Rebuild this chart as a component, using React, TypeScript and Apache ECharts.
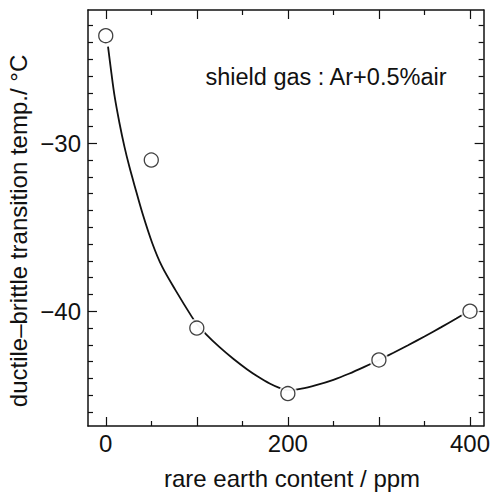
import React, { useEffect, useRef } from "react";
import * as echarts from "echarts";

// measured points
const pointX = [0, 50, 100, 200, 300, 400];
const pointY = [-23.6, -31.0, -41.0, -44.9, -42.9, -40.0];

// fitted curve
const fitX = [2.5, 6.2, 9.7, 15.1, 20.5, 25.9, 31.9, 40.3, 51.1, 61.9, 76.4, 94.4, 100, 110, 125, 140, 155, 166.5, 180, 192, 200, 215, 231, 250, 267, 284, 300, 316, 332, 350, 368, 385, 400];
const fitY = [-24.25, -25.83, -27.2, -28.81, -30.2, -31.39, -32.57, -34.17, -35.95, -37.35, -38.73, -40.32, -40.74, -41.36, -42.14, -42.83, -43.45, -43.87, -44.3, -44.59, -44.7, -44.61, -44.4, -44.08, -43.72, -43.31, -42.9, -42.47, -42.02, -41.5, -40.96, -40.43, -39.95];

// axes
const xMin = -19.5;
const xMax = 415;
const yMin = -46.83;
const yMax = -22.07;
const xMajorTicks = [0, 100, 200, 300, 400];
const xMinorTicks = [50, 150, 250, 350];
const xLabelValues = [0, 200, 400];
const yLabelValues = [-30, -40];
const yMinorTicks = [-46, -45, -44, -43, -42, -41, -39, -38, -37, -36, -35, -34, -33, -32, -31, -29, -28, -27, -26, -25, -24, -23];

const xTitle = "rare earth content / ppm";
const yTitle = "ductile–brittle transition temp./ °C";
const note = "shield gas : Ar+0.5%air";

const FONT = "'Liberation Sans', Arial, Helvetica, sans-serif";
const INK = "#111";

function axis(
  kind: "x" | "y",
  position: string,
  showLine: boolean,
  ticks: number[],
  len: number,
  labels: number[] | null
) {
  return {
    type: "value",
    position,
    min: kind === "x" ? xMin : yMin,
    max: kind === "x" ? xMax : yMax,
    axisLine: { show: showLine, onZero: false, lineStyle: { color: INK, width: 1.5 } },
    axisTick: {
      show: true,
      inside: true,
      length: len,
      customValues: ticks,
      lineStyle: { color: INK, width: 1.2 },
    },
    axisLabel: labels
      ? {
          show: true,
          customValues: labels,
          color: INK,
          fontSize: 24,
          fontFamily: FONT,
          margin: kind === "x" ? 5 : 7,
          formatter: (v: number) => String(v).replace("-", "−"),
        }
      : { show: false },
    splitLine: { show: false },
  };
}

export default function App() {
  const ref = useRef<HTMLDivElement>(null);
  useEffect(() => {
    if (!ref.current) return;
    const chart = echarts.init(ref.current, null, { renderer: "svg" });
    const pts = pointX.map((x, i) => [x, pointY[i]]);
    const fit = fitX.map((x, i) => [x, fitY[i]]);
    chart.setOption({
      animation: false,
      backgroundColor: "#fff",
      grid: { left: 88, top: 10, right: 3, bottom: 67 },
      xAxis: [
        axis("x", "bottom", true, xMajorTicks, 9, xLabelValues),
        axis("x", "bottom", false, xMinorTicks, 5, null),
        axis("x", "top", true, xMajorTicks, 9, null),
        axis("x", "top", false, xMinorTicks, 5, null),
      ],
      yAxis: [
        axis("y", "left", true, yLabelValues, 9, yLabelValues),
        axis("y", "left", false, yMinorTicks, 5, null),
        axis("y", "right", true, yLabelValues, 9, null),
        axis("y", "right", false, yMinorTicks, 5, null),
      ],
      series: [
        {
          type: "line",
          data: fit,
          smooth: 0.3,
          symbol: "none",
          lineStyle: { color: INK, width: 1.8 },
          z: 2,
        },
        {
          type: "scatter",
          data: pts,
          symbol: "circle",
          symbolSize: 19,
          itemStyle: { color: "#fff", borderWidth: 0 },
          z: 3,
          silent: true,
        },
        {
          type: "scatter",
          data: pts,
          symbol: "circle",
          symbolSize: 14,
          itemStyle: { color: "#fff", borderColor: INK, borderWidth: 1.3 },
          z: 4,
        },
      ],
      graphic: [
        {
          type: "text",
          x: 326,
          y: 77,
          style: {
            text: note,
            fontSize: 23.5,
            fontFamily: FONT,
            fill: INK,
            textAlign: "center",
            textVerticalAlign: "middle",
          },
        },
        {
          type: "text",
          x: 292,
          y: 478,
          style: {
            text: xTitle,
            fontSize: 24,
            fontFamily: FONT,
            fill: INK,
            textAlign: "center",
            textVerticalAlign: "middle",
          },
        },
        {
          type: "text",
          x: 18,
          y: 231,
          rotation: Math.PI / 2,
          style: {
            text: yTitle,
            fontSize: 24,
            fontFamily: FONT,
            fill: INK,
            textAlign: "center",
            textVerticalAlign: "middle",
          },
        },
      ],
    });
    return () => chart.dispose();
  }, []);
  return (
    <div
      ref={ref}
      style={{ position: "fixed", left: 0, top: 0, width: 493, height: 493, background: "#fff" }}
    />
  );
}
